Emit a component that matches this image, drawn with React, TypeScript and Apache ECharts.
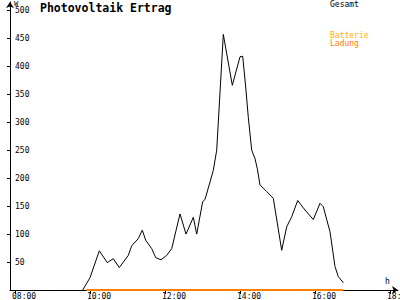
import React, { useEffect, useRef } from "react";
import * as echarts from "echarts";

const hours = [9.805, 10.0, 10.248, 10.461, 10.621, 10.781, 11.021, 11.112, 11.288, 11.395, 11.485, 11.645, 11.752, 11.893, 12.045, 12.179, 12.285, 12.4, 12.56, 12.755, 12.845, 13.005, 13.067, 13.2, 13.288, 13.379, 13.555, 13.795, 14.0, 14.072, 14.152, 14.221, 14.312, 14.4, 14.461, 14.533, 14.712, 14.888, 15.112, 15.245, 15.379, 15.539, 15.733, 15.955, 16.133, 16.221, 16.4, 16.533, 16.621, 16.755];
const gesamt = [0, 22, 70, 49, 56, 40, 62, 79, 92, 107, 89, 74, 58, 54, 62, 74, 104, 136, 100, 130, 100, 158, 162, 193, 214, 250, 457, 366, 417, 418, 363, 309, 250, 235, 217, 188, 176, 164, 71, 113, 131, 160, 143, 126, 155, 149, 104, 42, 24, 13];
const ladungHours = [9.9, 16.755];
const ladung = [0, 0];
const xTicks = [8, 10, 12, 14, 16, 18];
const yTicks = [50, 100, 150, 200, 250, 300, 350, 400, 450, 500];

const FONT = "DejaVu Sans Mono";

export default function App() {
  const ref = useRef<HTMLDivElement>(null);
  useEffect(() => {
    const chart = echarts.init(ref.current!, null, { renderer: "svg" });
    const pxPerHour = 37.5;
    chart.setOption({
      animation: false,
      backgroundColor: "#ffffff",
      grid: { left: 10, right: 2, top: 2, bottom: 10, containLabel: false, outerBoundsMode: "none" },
      xAxis: {
        type: "value",
        min: 8 - 5 / pxPerHour,
        max: 18 + 8 / pxPerHour,
        splitLine: { show: false },
        axisLine: { show: true, lineStyle: { color: "#000", width: 1 }, symbol: ["none", "arrow"], symbolSize: [6, 6] },
        axisTick: { show: true, customValues: xTicks, length: 4, lineStyle: { color: "#000" } },
        axisLabel: {
          customValues: xTicks.map((v) => v - 3 / pxPerHour),
          formatter: (v: number) => String(Math.round(v)).padStart(2, "0") + ":00",
          align: "left",
          margin: 2,
          fontSize: 8,
          fontFamily: FONT,
          color: "#000",
        },
      },
      yAxis: {
        type: "value",
        min: 0,
        max: 515,
        splitLine: { show: false },
        axisLine: { show: true, lineStyle: { color: "#000", width: 1 }, symbol: ["none", "arrow"], symbolSize: [6, 6] },
        axisTick: { show: true, customValues: yTicks, length: 3, lineStyle: { color: "#000" } },
        axisLabel: {
          customValues: yTicks,
          inside: true,
          align: "left",
          margin: 5,
          fontSize: 8,
          fontFamily: FONT,
          color: "#000",
        },
      },
      graphic: [
        { type: "text", left: 40, top: 2, style: { text: "Photovoltaik Ertrag", font: `bold 11.5px "${FONT}"`, fill: "#000" } },
        { type: "text", left: 14, top: 0, style: { text: "W", font: `7px "${FONT}"`, fill: "#000" } },
        { type: "text", left: 385, top: 277, style: { text: "h", font: `8px "${FONT}"`, fill: "#000" } },
        { type: "text", left: 330, top: 0, style: { text: "Gesamt", font: `8px "${FONT}"`, fill: "#000" } },
        { type: "text", left: 330, top: 31, style: { text: "Batterie", font: `8px "${FONT}"`, fill: "#FFB000" } },
        { type: "text", left: 330, top: 39, style: { text: "Ladung", font: `8px "${FONT}"`, fill: "#FF8000" } },
      ],
      series: [
        {
          name: "Gesamt",
          type: "line",
          data: hours.map((h, i) => [h, gesamt[i]]),
          showSymbol: false,
          lineStyle: { color: "#000", width: 1 },
          z: 3,
        },
        {
          name: "Ladung",
          type: "line",
          data: ladungHours.map((h, i) => [h, ladung[i]]),
          showSymbol: false,
          lineStyle: { color: "#FF8000", width: 2 },
          z: 4,
        },
      ],
    });
    return () => chart.dispose();
  }, []);
  return <div ref={ref} style={{ width: 400, height: 300, position: "absolute", left: 0, top: 0 }} />;
}
